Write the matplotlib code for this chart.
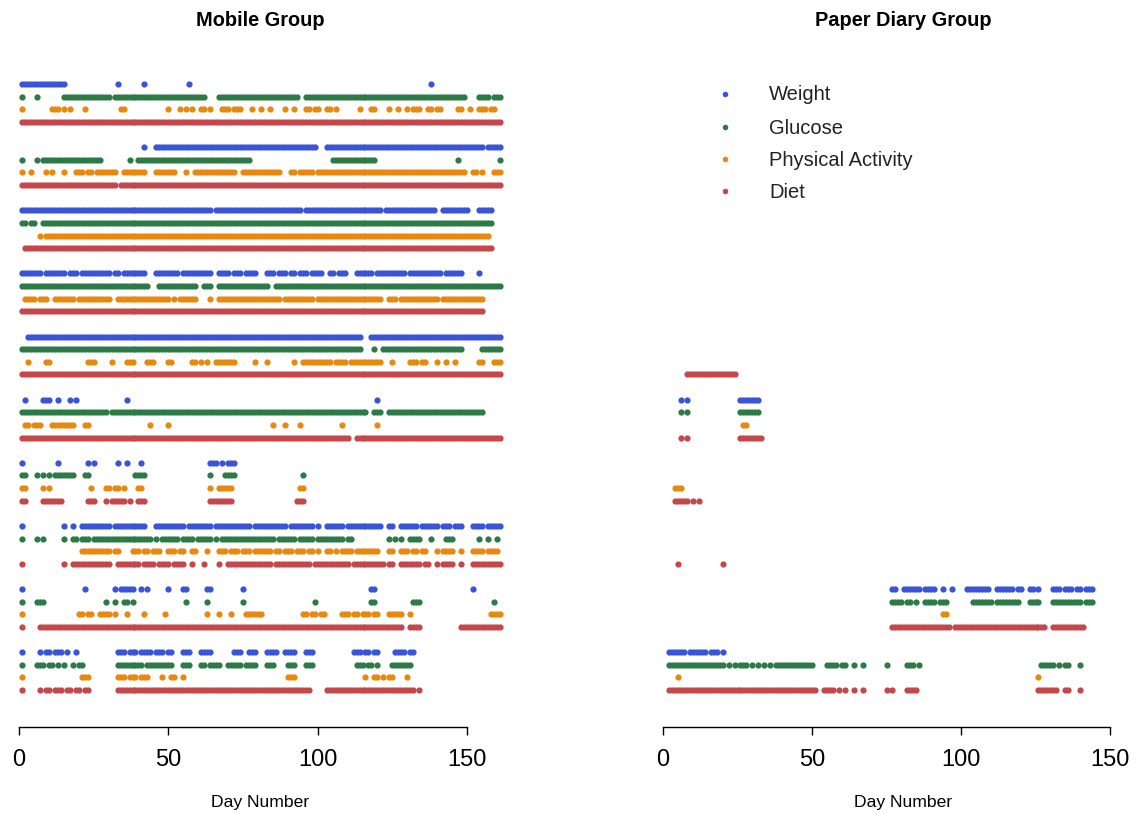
import matplotlib
matplotlib.use("Agg")
import matplotlib.pyplot as plt
from matplotlib.lines import Line2D

plt.rcParams['font.family'] = ['Liberation Sans', 'DejaVu Sans']

# ---------------- data: logged day numbers per participant (runs "a-b") ----------------
series_names = ["Weight", "Glucose", "Physical Activity", "Diet"]
series_colors = ["#3a54d8", "#2c7b46", "#e8890f", "#c4484b"]
x_ticks = [0, 50, 100, 150]

mobile_weight = [
    "1-15,33,42,57,138",
    "42,46-99,103-155,157-161",
    "1-64,66-94,96-121,123-139,142-150,154-158",
    "1-7,9-15,17-19,21-30,32-33,35-42,46-53,55-64,67-70,72-74,76-79,83-85,87-89,91-92,94-96,98-101,104-105,107-109,113-118,120-129,131-141,143-148,154",
    "3-114,118-161",
    "2,8-10,13,17,19,36,120",
    "1,13,23,25,33,36,41,64-66,68,70-72",
    "1,15,18,21-30,32-42,46-55,57-64,66-77,79-89,91-98,100,103-108,110-121,124-125,128-133,135-140,142-144,146-148,152-155,157-161",
    "1,22,32,34-38,41,43,50,55-56,63-64,75,118-119,152",
    "1,7,9-10,12-14,16,19,33-35,37-39,41-44,46-48,50-51,55-57,61-64,72-74,77-79,83-86,89-92,96-98,112-114,116-117,119-120,126-129,131-132",
]
mobile_glucose = [
    "1,6,15-30,32-62,67-93,96-149,154-157,159-161",
    "1,6,8-27,37,40-77,105-119,147,161",
    "1-2,4-5,8-158",
    "1-43,47-59,62-64,67-83,86-161",
    "1-114,119,122-148,155-161",
    "1-29,31-116,119-121,124-155",
    "1-2,6,8,10,12-18,22-23,39-42,64,69-72,95",
    "1,6,8,15,18-19,21-23,25-44,46,48-53,55-58,60-64,66,68-85,87-92,94-98,100-108,110-111,124,126,128,131-134,138,143-145,154,157,160",
    "1,6-8,29,32,35-36,38,56,63,75,99,118-119,132-134,159",
    "1,6-8,10-11,13,15,18,20-21,33-41,43-51,55-57,61-62,64-67,70-74,76-79,83-85,90-92,96-98,113-115,117-118,120,125-131",
]
mobile_activity = [
    "1,11-13,15,17,22,34-35,50,54,56,58,61-62,64,68-70,72-74,78,81,84,89,92,96-97,99-100,103-104,106,114,118-119,124,127,130,132-134,137-138,140-141,147-148,151,154-156,158-159",
    "1,4,9,11,15,19-21,23-24,26-32,35-42,46-52,56,59-72,75-87,91-92,94-98,100-149,152-153,155,159-161",
    "7,9-157",
    "2-5,7-9,12-18,20-30,33-50,52,54-59,64,67-87,89-98,100-121,124-126,128-140,142-155",
    "3,9-10,23-25,31,36-38,43-45,50-51,58-59,61,63,66-72,79,83,92,95-104,106-109,111-121,125,131-133,135-136,140,143,146,154-155,159-161",
    "2-3,5-7,11-18,22-23,44,50,85,89,94,108,120",
    "1-2,8,10,24,29-30,32-33,35,40-41,64,67-71,94-95",
    "21-30,32-33,38-40,42-43,45-47,50-52,54-55,58-59,63,67-69,71-73,75-77,79-84,86-87,89-91,93-95,97-98,100,103-104,106,108-111,113-120,124-125,128-130,132-133,135-136,140,142-145,148,152-155,157-160",
    "1,20-21,23-24,27-30,32,36,42,49,63,67,71,76-81,95-96,98-99,101-102,108-110,112-113,115-117,119-120,124-128,131,158-161",
    "1,21-23,33-35,37-39,41-43,48,51-52,55,90-92,116,119-120,122,124-125,130",
]
mobile_diet = [
    "1-161",
    "1-32,34-161",
    "2-158",
    "1-155",
    "1-161",
    "1-110,113-161",
    "1-2,8-14,23-25,29,31-35,37,40-42,64-71,93-95",
    "1,15,18-30,33-40,42-45,47-50,52-55,58,62,67,70-84,86-97,99-110,112-122,124-125,128-134,136-137,140,142-145,148,152-161",
    "1,7-128,131-134,148-161",
    "1,7,9-10,12-14,16-17,19-20,22-23,33-97,103-132,134",
]

paper_weight = [
    "", "", "", "", "",
    "6,8,26-32",
    "", "",
    "77-78,81-86,88-91,94,97,102-109,112-117,119-120,123-124,126,131-133,135-137,139-140,142-144",
    "2-7,9-14,16-18,20",
]
paper_glucose = [
    "", "", "", "", "",
    "6,8,26-32",
    "", "",
    "77-80,82-83,85,88-91,93-95,104-110,112-119,123-126,131-140,142-144",
    "2-20,22,24,26-28,30,32,34,36,38-50,55-58,60-61,64,67,75,82-84,86,127-131,133,135-136,140",
]
paper_activity = [
    "", "", "", "", "",
    "27-28",
    "4-6",
    "",
    "94-95",
    "5,126",
]
paper_diet = [
    "", "", "", "",
    "8-24",
    "6,8,26-33",
    "4-8,10,12",
    "5,20",
    "77-96,98-128,131-141",
    "2-51,54-57,59,61,64,67,75,77,82-85,126-132,135-136,140",
]


def expand(spec):
    out = []
    for part in spec.split(","):
        part = part.strip()
        if not part:
            continue
        if "-" in part:
            a, b = part.split("-")
            out.extend(range(int(a), int(b) + 1))
        else:
            out.append(int(part))
    return out


# ---------------- layout ----------------
W, H = 1139, 814
fig = plt.figure(figsize=(W / 100, H / 100), dpi=100)

AX_BOTTOM_PX, AX_TOP_PX = 727, 60
ROW0_PX, ROW_STEP_PX = 84, 12.625
MS = 4.5
MK = "o"


def make_axes(zero_px, px_per_day, xlim):
    left = zero_px + xlim[0] * px_per_day
    right = zero_px + xlim[1] * px_per_day
    ax = fig.add_axes([left / W, 1 - AX_BOTTOM_PX / H, (right - left) / W,
                       (AX_BOTTOM_PX - AX_TOP_PX) / H])
    ax.set_xlim(*xlim)
    ax.set_ylim((AX_BOTTOM_PX - ROW0_PX) / ROW_STEP_PX, (AX_TOP_PX - ROW0_PX) / ROW_STEP_PX)
    for s in ["left", "right", "top"]:
        ax.spines[s].set_visible(False)
    ax.spines["bottom"].set_bounds(x_ticks[0], x_ticks[-1])
    ax.spines["bottom"].set_linewidth(1.0)
    ax.set_yticks([])
    ax.set_xticks(x_ticks)
    ax.tick_params(axis="x", direction="out", length=6, width=1.0, labelsize=17, pad=10)
    ax.patch.set_alpha(0)
    return ax


panels = [
    (make_axes(19, 2.987, (-5, 167)), [mobile_weight, mobile_glucose, mobile_activity, mobile_diet]),
    (make_axes(663, 2.98, (-5, 155)), [paper_weight, paper_glucose, paper_activity, paper_diet]),
]

for ax, data in panels:
    for s, series in enumerate(data):
        for g, spec in enumerate(series):
            days = expand(spec)
            if not days:
                continue
            ax.plot(days, [g * 5 + s] * len(days), linestyle="none", marker=MK,
                    markersize=MS, markeredgewidth=0, color=series_colors[s],
                    clip_on=False)

# titles and axis labels
fig.text(260 / W, 1 - 20 / H, "Mobile Group", ha="center", va="center",
         fontsize=14.4, fontweight="bold")
fig.text(903 / W, 1 - 20 / H, "Paper Diary Group", ha="center", va="center",
         fontsize=14.4, fontweight="bold")
fig.text(260 / W, 1 - 802 / H, "Day Number", ha="center", va="center", fontsize=12.6)
fig.text(903 / W, 1 - 802 / H, "Day Number", ha="center", va="center", fontsize=12.6)

# legend (in the paper panel)
leg_y = [95, 128, 160, 192]
for name, col, yp in zip(series_names, series_colors, leg_y):
    fig.add_artist(Line2D([725 / W], [1 - (yp - 1) / H], linestyle="none", marker=MK,
                          markersize=MS - 0.5, markeredgewidth=0, color=col,
                          transform=fig.transFigure))
    fig.text(769 / W, 1 - yp / H, name, ha="left", va="center", fontsize=14.5,
             color="#222222")

fig.savefig("out.png", dpi=100)
